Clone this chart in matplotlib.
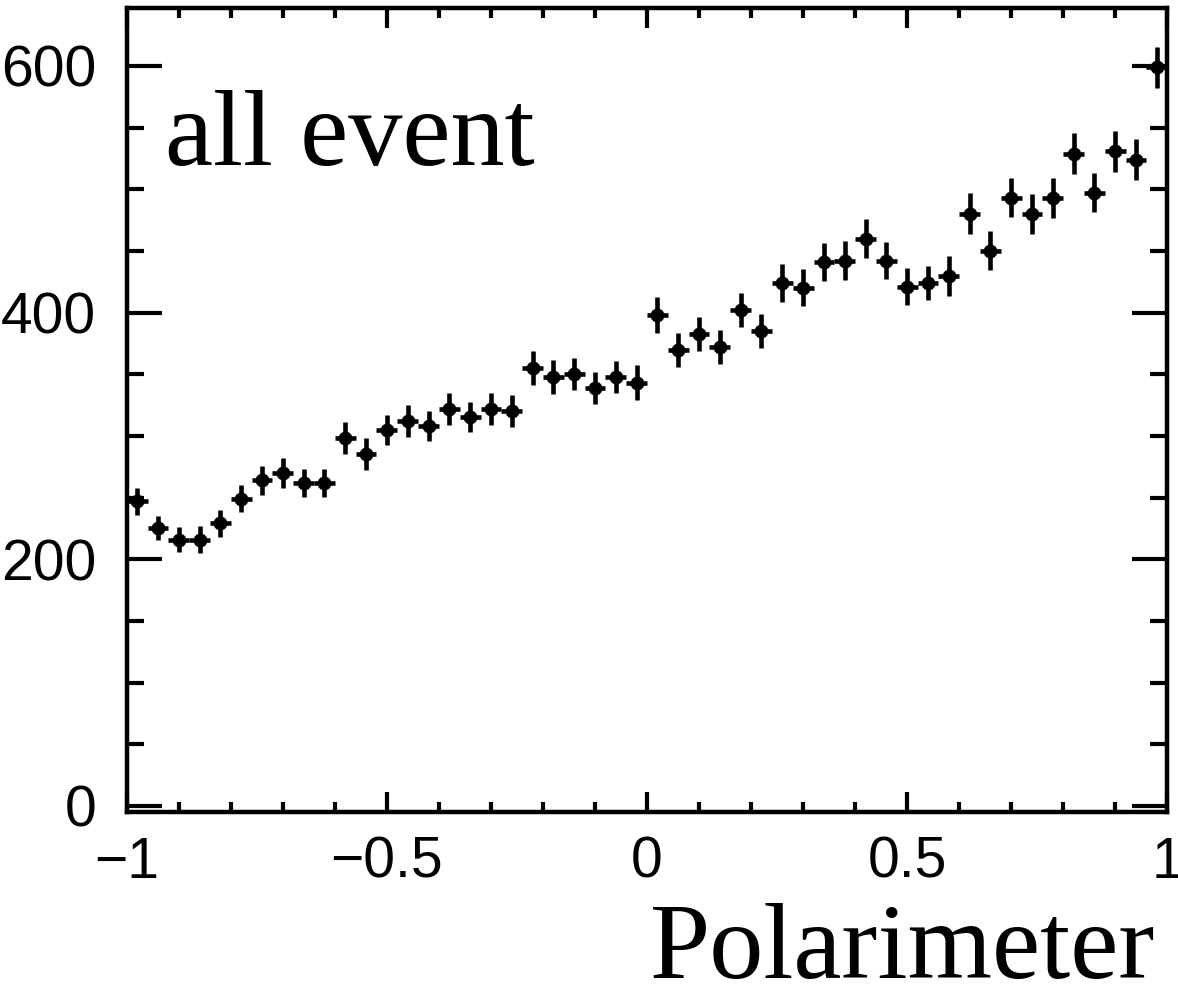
import matplotlib
matplotlib.use('Agg')
import matplotlib.pyplot as plt
from matplotlib.ticker import MultipleLocator, FixedLocator, FixedFormatter
import numpy as np

# 50 Bins zwischen -1 und 1
bin_edges = np.linspace(-1, 1, 51)
counts = [247, 225, 216, 216, 229, 249, 264, 270, 262, 262,
          298, 285, 305, 312, 308, 322, 315, 322, 320, 355,
          348, 350, 339, 348, 343, 398, 370, 383, 372, 402,
          385, 424, 420, 441, 442, 460, 442, 421, 424, 430,
          480, 450, 493, 480, 493, 529, 497, 531, 524, 599]
errors = [11.1, 9.7, 10.1, 11.0, 11.0, 11.0, 11.8, 12.2, 11.4, 11.4,
          13.0, 13.0, 12.2, 13.0, 12.2, 13.0, 12.2, 13.0, 13.0, 13.8,
          13.8, 13.0, 13.0, 13.0, 14.2, 14.9, 13.8, 13.8, 13.8, 13.8,
          13.8, 15.8, 15.0, 15.2, 15.8, 15.8, 14.9, 15.0, 13.8, 16.2,
          16.6, 15.8, 15.8, 16.0, 16.0, 16.9, 15.8, 16.6, 16.6, 16.5]
xtick_values = [-1, -0.5, 0, 0.5, 1]
xtick_labels = ['\u22121', '\u22120.5', '0', '0.5', '1']
ytick_values = [0, 200, 400, 600]
ytick_labels = ['0', '200', '400', '600']

centers = 0.5 * (bin_edges[:-1] + bin_edges[1:])
halfwidth = 0.5 * np.diff(bin_edges)

fig = plt.figure(figsize=(11.78, 9.88), dpi=100)
ax = fig.add_axes([0.1076, 0.1781, 0.8833, 0.8138])

ax.errorbar(centers, counts, yerr=errors, xerr=halfwidth, fmt='o',
            color='black', ms=9, elinewidth=3.3, capsize=0)

ax.set_xlim(-1, 1)
ax.set_ylim(-5, 647)

ax.xaxis.set_major_locator(FixedLocator(xtick_values))
ax.xaxis.set_major_formatter(FixedFormatter(xtick_labels))
ax.xaxis.set_minor_locator(MultipleLocator(0.1))
ax.yaxis.set_major_locator(FixedLocator(ytick_values))
ax.yaxis.set_major_formatter(FixedFormatter(ytick_labels))
ax.yaxis.set_minor_locator(MultipleLocator(50))

for s in ax.spines.values():
    s.set_linewidth(3.2)

ax.tick_params(axis='both', which='both', direction='in', top=True, right=True, width=3)
ax.tick_params(axis='x', which='major', length=14.5, pad=17)
ax.tick_params(axis='x', which='minor', length=7)
ax.tick_params(axis='y', which='major', length=25, pad=22)
ax.tick_params(axis='y', which='minor', length=12.5)
for lab in ax.get_xticklabels() + ax.get_yticklabels():
    lab.set_fontfamily('Liberation Sans')
    lab.set_fontsize(41)

ax.text(0.0368, 0.8047, 'all event', transform=ax.transAxes, ha='left', va='baseline',
        family='Liberation Serif', fontsize=78)
fig.text(0.981, 0.0101, 'Polarimeter', ha='right', va='baseline',
         family='Liberation Serif', fontsize=78)

fig.savefig('out.png', dpi=100)
